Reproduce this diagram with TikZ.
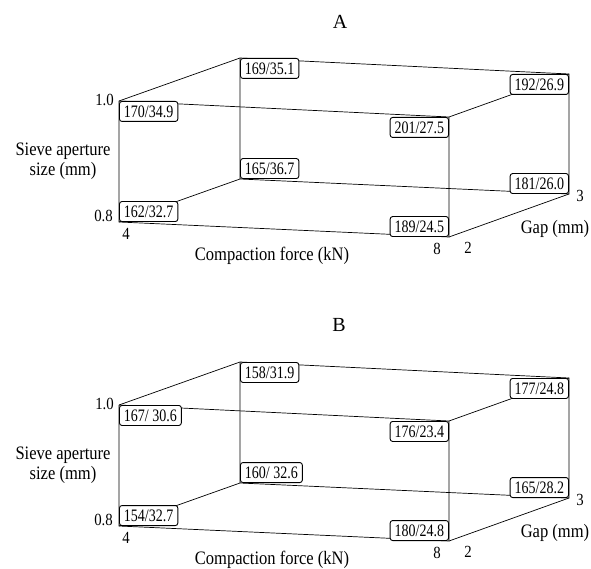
\documentclass[tikz,border=0pt]{standalone}
\usepackage{fontspec}
\setmainfont{Liberation Serif}
\newfontfamily\valfont{Liberation Serif}[FakeStretch=0.8]
\newfontfamily\labfont{Liberation Serif}[FakeStretch=0.87]
\tikzset{
  edge/.style={line width=0.7pt},
  valbox/.style={draw,fill=white,rounded corners=2.5pt,line width=0.9pt,
    inner xsep=4.5pt,inner ysep=0pt,minimum height=20pt,
    font=\valfont\fontsize{17.5}{18}\selectfont},
  axlabel/.style={font=\labfont\fontsize{19}{20}\selectfont,align=center,inner sep=0pt},
  ticklabel/.style={font=\labfont\fontsize{17}{18}\selectfont,inner sep=0pt},
  paneltitle/.style={font=\fontsize{20}{22}\selectfont,inner sep=0pt}
}
\begin{document}
\begin{tikzpicture}
\useasboundingbox (0pt,0pt) rectangle (591pt,-569pt);
% panel A
\begin{scope}
\coordinate (a-ftl) at (119pt,-101pt);
\coordinate (a-ftr) at (449pt,-117pt);
\coordinate (a-fbl) at (119pt,-222pt);
\coordinate (a-fbr) at (449pt,-237pt);
\coordinate (a-btl) at (240pt,-58pt);
\coordinate (a-btr) at (569pt,-74pt);
\coordinate (a-bbl) at (240pt,-179pt);
\coordinate (a-bbr) at (569pt,-194pt);
\path[edge,draw] (a-btl) to (a-btr) to (a-bbr) to (a-bbl) to (a-btl);
\path[edge,draw] (a-ftl) to (a-btl) ;
\path[edge,draw] (a-ftr) to (a-btr) ;
\path[edge,draw] (a-fbl) to (a-bbl) ;
\path[edge,draw] (a-fbr) to (a-bbr) ;
\path[edge,draw] (a-ftl) to (a-ftr) to (a-fbr) to (a-fbl) to (a-ftl);
% values at the corners
\node[valbox,anchor=north west] (a-v1) at (a-ftl) {170/34.9};
\node[valbox,anchor=north east] (a-v2) at (a-ftr) {201/27.5};
\node[valbox,anchor=south west] (a-v3) at (a-fbl) {162/32.7};
\node[valbox,anchor=south east] (a-v4) at (a-fbr) {189/24.5};
\node[valbox,anchor=north west] (a-v5) at (a-btl) {169/35.1};
\node[valbox,anchor=north east] (a-v6) at (a-btr) {192/26.9};
\node[valbox,anchor=south west] (a-v7) at (a-bbl) {165/36.7};
\node[valbox,anchor=south east] (a-v8) at (a-bbr) {181/26.0};
\node[paneltitle] (a-title) at (340pt,-22pt) {A};
\node[ticklabel,anchor=east] (a-y1) at (114pt,-100pt) {1.0};
\node[ticklabel,anchor=east] (a-y0) at (113pt,-216pt) {0.8};
\node[axlabel] (a-ylab) at (63pt,-161pt) {Sieve aperture\\size (mm)};
\node[ticklabel] (a-x0) at (126pt,-234pt) {4};
\node[ticklabel] (a-x1) at (437pt,-249pt) {8};
\node[axlabel] (a-xlab) at (272pt,-256pt) {Compaction force (kN)};
\node[ticklabel] (a-z0) at (468pt,-248pt) {2};
\node[ticklabel] (a-z1) at (580pt,-196pt) {3};
\node[axlabel] (a-zlab) at (555pt,-229pt) {Gap (mm)};
\end{scope}
% panel B
\begin{scope}[yshift=-304pt]
\coordinate (b-ftl) at (119pt,-101pt);
\coordinate (b-ftr) at (449pt,-117pt);
\coordinate (b-fbl) at (119pt,-222pt);
\coordinate (b-fbr) at (449pt,-237pt);
\coordinate (b-btl) at (240pt,-58pt);
\coordinate (b-btr) at (569pt,-74pt);
\coordinate (b-bbl) at (240pt,-179pt);
\coordinate (b-bbr) at (569pt,-194pt);
\path[edge,draw] (b-btl) to (b-btr) to (b-bbr) to (b-bbl) to (b-btl);
\path[edge,draw] (b-ftl) to (b-btl) ;
\path[edge,draw] (b-ftr) to (b-btr) ;
\path[edge,draw] (b-fbl) to (b-bbl) ;
\path[edge,draw] (b-fbr) to (b-bbr) ;
\path[edge,draw] (b-ftl) to (b-ftr) to (b-fbr) to (b-fbl) to (b-ftl);
% values at the corners
\node[valbox,anchor=north west] (b-v1) at (b-ftl) {167/ 30.6};
\node[valbox,anchor=north east] (b-v2) at (b-ftr) {176/23.4};
\node[valbox,anchor=south west] (b-v3) at (b-fbl) {154/32.7};
\node[valbox,anchor=south east] (b-v4) at (b-fbr) {180/24.8};
\node[valbox,anchor=north west] (b-v5) at (b-btl) {158/31.9};
\node[valbox,anchor=north east] (b-v6) at (b-btr) {177/24.8};
\node[valbox,anchor=south west] (b-v7) at (b-bbl) {160/ 32.6};
\node[valbox,anchor=south east] (b-v8) at (b-bbr) {165/28.2};
\node[paneltitle] (b-title) at (339pt,-21pt) {B};
\node[ticklabel,anchor=east] (b-y1) at (114pt,-100pt) {1.0};
\node[ticklabel,anchor=east] (b-y0) at (113pt,-216pt) {0.8};
\node[axlabel] (b-ylab) at (63pt,-161pt) {Sieve aperture\\size (mm)};
\node[ticklabel] (b-x0) at (126pt,-234pt) {4};
\node[ticklabel] (b-x1) at (437pt,-249pt) {8};
\node[axlabel] (b-xlab) at (272pt,-256pt) {Compaction force (kN)};
\node[ticklabel] (b-z0) at (468pt,-248pt) {2};
\node[ticklabel] (b-z1) at (580pt,-196pt) {3};
\node[axlabel] (b-zlab) at (555pt,-229pt) {Gap (mm)};
\end{scope}
\end{tikzpicture}
\end{document}
